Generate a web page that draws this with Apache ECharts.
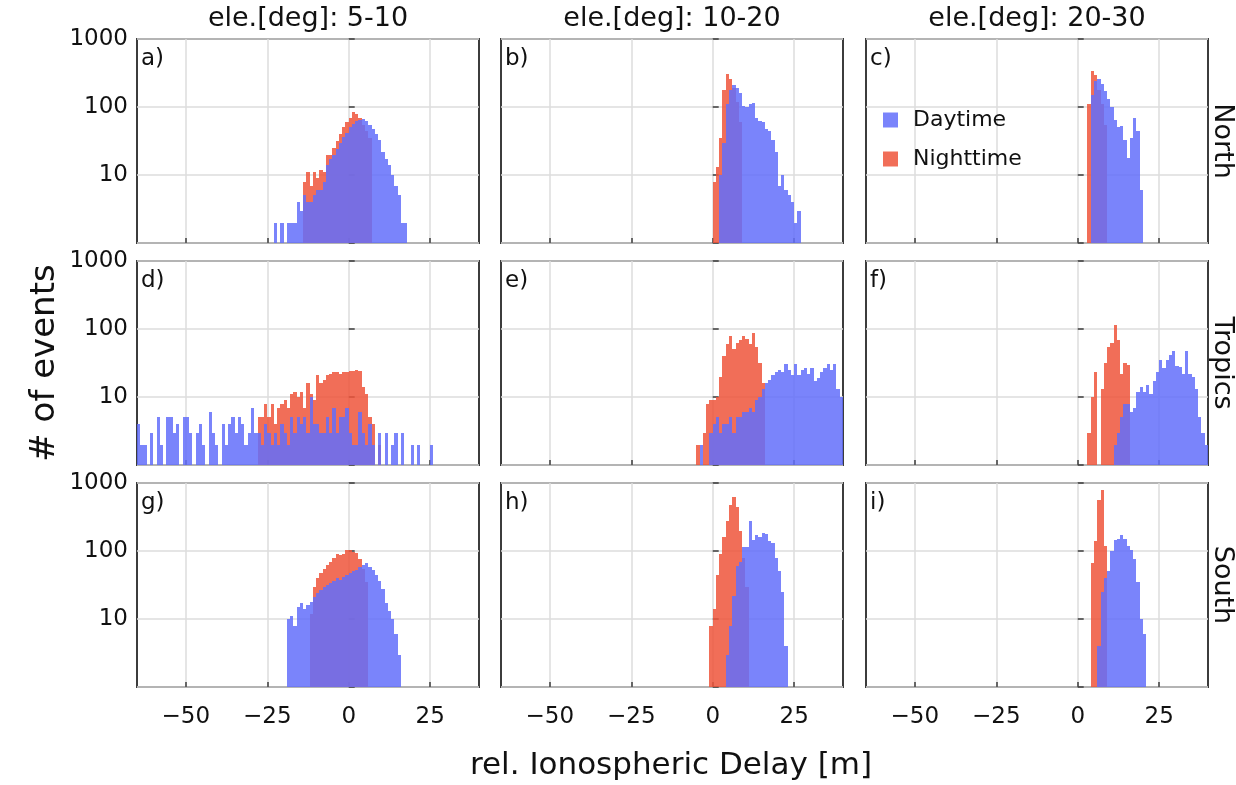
<!DOCTYPE html>
<html><head><meta charset="utf-8">
<script src="https://cdn.jsdelivr.net/npm/echarts@6/dist/echarts.min.js"></script>
<style>html,body{margin:0;padding:0;background:#fff}#c{width:1236px;height:785px}</style>
</head><body><div id="c"></div><script>
// ---- labels ----
const colTitles = ['ele.[deg]: 5-10', 'ele.[deg]: 10-20', 'ele.[deg]: 20-30'];
const rowLabels = ['North', 'Tropics', 'South'];
const panelLetters = ['a)', 'b)', 'c)', 'd)', 'e)', 'f)', 'g)', 'h)', 'i)'];
const seriesNames = ['Daytime', 'Nighttime'];
const xTicks = [-50, -25, 0, 25];
const xTitle = 'rel. Ionospheric Delay [m]';
const yTitle = '# of events';

// ---- histogram counts, one value per 1 m bin starting at the given bin ----
const aDayStart = -23;
const aDay = [2,0,2,0,2,2,2,4,3,5,4,4,5,6,6,8,14,17,20,24,30,36,42,50,57,62,65,66,62,55,48,40,33,22,17,14,10,7,5,2,2];
const aNightStart = -14;
const aNight = [8,11,7,11,9,12,11,20,20,25,32,40,50,60,70,85,80,70,55,45,35];

const bDayStart = 2;
const bDay = [10,30,110,180,210,190,160,105,100,110,115,70,62,60,48,45,33,22,7,10,6,5,4,2,3];
const bNightStart = 0;
const bNight = [8,13,35,180,310,260,190,120,60];

const cDayStart = 4;
const cDay = [150,240,255,215,170,130,100,65,50,52,33,18,35,70,45,6];
const cNightStart = 3;
const cNight = [110,340,300,180,110,55];

const dDayStart = -65;
const dDay = [4,2,2,0,3,0,5,2,0,5,5,3,4,0,5,5,3,0,3,4,2,0,6,3,2,0,4,2,4,5,3,5,4,2,3,7,
  3,3,2,4,3,2,3,2,4,3,2,5,3,5,4,5,3,10,4,4,3,3,5,3,7,3,5,5,7,3,2,2,6,3,2,4,2,0,3,0,3,0,2,3,0,3,0,0,2,0,2,0,0,0,2,0];
const dNightStart = -28;
const dNight = [5,5,8,5,8,4,7,8,9,7,11,12,10,12,7,16,11,9,21,16,18,21,22,23,23,22,23,23,24,24,25,24,14,11,5,4,0,2];

const eDayStart = -4;
const eDay = [2,0,0,3,4,5,3,4,4,5,3,5,5,6,6,7,6,9,10,13,16,18,21,23,25,23,31,25,21,31,21,25,27,22,27,17,19,23,27,31,25,31,13,10];
const eNightStart = -5;
const eNight = [2,0,3,8,9,9,10,20,40,60,78,50,62,70,78,72,60,88,55,32,16];

const fDayStart = 11;
const fDay = [2,3,5,8,8,6,7,12,14,12,15,11,17,23,35,27,35,42,47,29,28,22,47,22,20,13,5,3,2];
const fNightStart = 3;
const fNight = [3,10,23,0,13,32,55,62,115,68,22,32,30];

const gDayStart = -19;
const gDay = [10,11,8,15,17,14,16,18,21,24,27,30,32,34,36,40,38,42,45,47,50,53,59,62,67,59,53,45,36,28,17,13,10,6,3];
const gNightStart = -12;
const gNight = [12,30,40,47,55,62,70,80,90,88,90,103,103,98,93,75,55,35];

const hDayStart = 4;
const hDay = [3,8,22,60,70,115,115,280,146,170,160,183,175,139,130,80,50,25,4];
const hNightStart = -1;
const hNight = [8,14,45,90,160,280,480,630,450,200,80,30];

const iDayStart = 6;
const iDay = [4,25,40,50,100,145,150,170,150,120,105,75,35,10,6];
const iNightStart = 4;
const iNight = [66,140,560,780,120];

const panels = [
  [aDayStart, aDay, aNightStart, aNight], [bDayStart, bDay, bNightStart, bNight], [cDayStart, cDay, cNightStart, cNight],
  [dDayStart, dDay, dNightStart, dNight], [eDayStart, eDay, eNightStart, eNight], [fDayStart, fDay, fNightStart, fNight],
  [gDayStart, gDay, gNightStart, gNight], [hDayStart, hDay, hNightStart, hNight], [iDayStart, iDay, iNightStart, iNight]
];

// ---- layout / style ----
const FONT = 'DejaVu Sans';
const TEXT = '#111111';
const FRAME = '#3c3c3c';
const DAY_COLOR = 'rgba(99,110,250,0.85)';
const NIGHT_COLOR = 'rgba(239,85,59,0.85)';
const colLeft = [137, 501, 866];
const rowTop = [39, 261, 483];
const PW = 342, PH = 204;

const grids = [], xAxes = [], yAxes = [], series = [], graphics = [];

function hist(name, color, start, counts, gi) {
  const data = [];
  counts.forEach((c, k) => { if (c > 0) data.push([start + k, c]); });
  return {
    type: 'custom', name: name, xAxisIndex: gi, yAxisIndex: gi,
    itemStyle: { color: color }, encode: { x: 0, y: 1 }, data: data, silent: true,
    renderItem: function (params, api) {
      const x = api.value(0), c = api.value(1);
      const tl = api.coord([x, c]);
      const br = api.coord([x + 1, 1]);
      const x0 = Math.round(tl[0]), x1 = Math.round(br[0]);
      const y0 = Math.round(tl[1]), y1 = Math.round(br[1]);
      return { type: 'rect', shape: { x: x0, y: y0, width: x1 - x0, height: y1 - y0 }, style: { fill: color } };
    }
  };
}

const fmtX = v => (v < 0 ? '\u2212' + Math.abs(v) : String(v));

for (let r = 0; r < 3; r++) {
  for (let c = 0; c < 3; c++) {
    const gi = r * 3 + c;
    grids.push({ left: colLeft[c], top: rowTop[r], width: PW, height: PH, show: true,
      borderColor: FRAME, borderWidth: 2, backgroundColor: 'transparent' });
    xAxes.push({ gridIndex: gi, type: 'value', min: -65, max: 40,
      axisLine: { show: false },
      axisTick: { show: true, inside: true, length: 5, customValues: xTicks, lineStyle: { color: FRAME, width: 1.5 } },
      axisLabel: { show: r === 2, customValues: xTicks, formatter: fmtX, fontSize: 23, color: TEXT, margin: 19, fontFamily: FONT },
      splitLine: { show: true, lineStyle: { color: '#dddddd', width: 1.5 } } });
    yAxes.push({ gridIndex: gi, type: 'log', logBase: 10, min: 1, max: 1000,
      axisLine: { show: false },
      axisTick: { show: true, inside: true, length: 6, lineStyle: { color: FRAME, width: 1.5 } },
      axisLabel: { show: c === 0, fontSize: 23, color: TEXT, margin: 9, fontFamily: FONT,
        formatter: v => (Math.round(v) === 1 ? '' : String(Math.round(v))) },
      splitLine: { show: true, lineStyle: { color: '#dddddd', width: 1.5 } } });
    const p = panels[gi];
    series.push(hist(seriesNames[1], NIGHT_COLOR, p[2], p[3], gi));
    series.push(hist(seriesNames[0], DAY_COLOR, p[0], p[1], gi));
    graphics.push({ type: 'text', left: colLeft[c] + 4, top: rowTop[r] + 9, z: 100,
      style: { text: panelLetters[gi], fontSize: 23, fontFamily: FONT, fill: TEXT } });
  }
}

colTitles.forEach((t, c) => graphics.push({ type: 'text', x: colLeft[c] + PW / 2, y: 19, z: 100,
  style: { text: t, fontSize: 27, fontFamily: FONT, fill: TEXT, align: 'center', verticalAlign: 'middle' } }));
rowLabels.forEach((t, r) => graphics.push({ type: 'text', x: 1222, y: rowTop[r] + PH / 2, rotation: -Math.PI / 2, z: 100,
  style: { text: t, fontSize: 27, fontFamily: FONT, fill: TEXT, align: 'center', verticalAlign: 'middle' } }));
graphics.push({ type: 'text', x: 45, y: 363, rotation: Math.PI / 2, z: 100,
  style: { text: yTitle, fontSize: 34, fontFamily: FONT, fill: TEXT, align: 'center', verticalAlign: 'middle' } });
graphics.push({ type: 'text', x: 671, y: 766, z: 100,
  style: { text: xTitle, fontSize: 31, fontFamily: FONT, fill: TEXT, align: 'center', verticalAlign: 'middle' } });

const chart = echarts.init(document.getElementById('c'), null, { renderer: 'canvas' });
chart.setOption({
  animation: false,
  backgroundColor: '#ffffff',
  textStyle: { fontFamily: FONT },
  grid: grids, xAxis: xAxes, yAxis: yAxes, series: series, graphic: graphics,
  legend: { data: seriesNames, orient: 'vertical', left: 878, top: 104, itemWidth: 15, itemHeight: 15, itemGap: 17,
    icon: 'rect', textStyle: { fontSize: 22, color: TEXT, fontFamily: FONT, padding: [0, 0, 0, 10] } }
});
</script></body></html>
